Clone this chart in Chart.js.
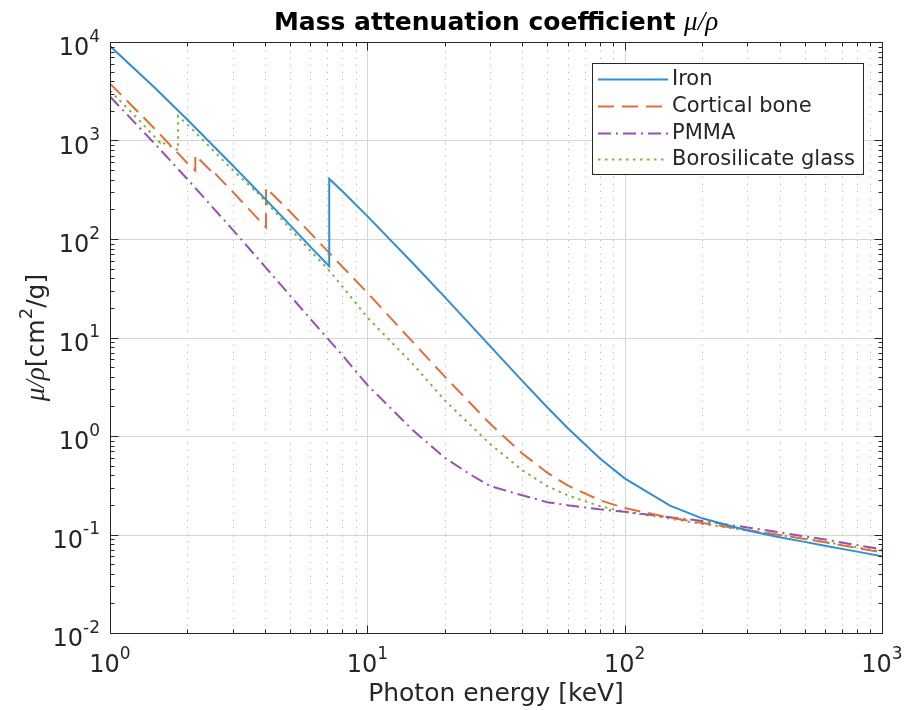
<!DOCTYPE html>
<html>
<head>
<meta charset="utf-8">
<script src="https://cdn.jsdelivr.net/npm/chart.js@4.4.0/dist/chart.umd.min.js"></script>
<style>
html, body { margin: 0; padding: 0; background: #fff; }
#wrap { width: 906px; height: 710px; position: relative; }
</style>
</head>
<body>
<div id="wrap"><canvas id="muChart"></canvas></div>
<script>
// photon energies in keV, mass attenuation in cm^2/g
const seriesNames = ['Iron', 'Cortical bone', 'PMMA', 'Borosilicate glass'];

const energyIron = [1, 1.5, 2, 3, 4, 5, 6, 7.112, 7.112, 8, 10, 15, 20, 30, 40, 50, 60, 80, 100, 150, 200, 300, 400, 500, 600, 800, 1000];
const muIron = [9085, 3399, 1626, 557.6, 256.7, 139.3, 83.76, 52.81, 407.5, 305.6, 170.6, 57.08, 25.68, 8.176, 3.629, 1.958, 1.205, 0.5952, 0.3717, 0.1964, 0.146, 0.1099, 0.094, 0.08414, 0.07704, 0.06699, 0.05995];

const energyBone = [1, 1.0721, 1.0721, 1.305, 1.305, 1.5, 2, 2.1455, 2.1455, 2.472, 2.472, 3, 4, 4.0381, 4.0381, 5, 6, 8, 10, 15, 20, 30, 40, 50, 60, 80, 100, 150, 200, 300, 400, 500, 600, 800, 1000];
const muBone = [3781, 3150, 3156, 1873, 1883, 1295, 586.9, 495, 711.2, 488.5, 509, 300.9, 134.5, 131.3, 331.8, 190.3, 115.3, 52.27, 28.51, 9.032, 4.001, 1.331, 0.6655, 0.4242, 0.3148, 0.2229, 0.1855, 0.148, 0.1309, 0.1113, 0.09908, 0.09022, 0.08332, 0.07308, 0.06566];

const energyPmma = [1, 1.5, 2, 3, 4, 5, 6, 8, 10, 15, 20, 25, 30, 40, 50, 60, 80, 100, 150, 200, 300, 400, 500, 600, 800, 1000];
const muPmma = [2794, 915, 404, 124, 52.5, 26.8, 15.5, 6.6, 3.3, 1.15, 0.6, 0.41, 0.31, 0.25, 0.213, 0.198, 0.18, 0.17, 0.15, 0.137, 0.118, 0.105, 0.096, 0.089, 0.078, 0.071];

const energyGlass = [1, 1.0721, 1.0721, 1.3, 1.5596, 1.5596, 1.8389, 1.8389, 2, 3, 3.6074, 3.6074, 4, 5, 6, 7, 8, 10, 15, 20, 30, 40, 50, 60, 80, 100, 150, 200, 300, 400, 500, 600, 800, 1000];
const muGlass = [3200, 2650, 2670, 1600, 960, 985, 800, 1770, 1450, 500, 320, 323, 245, 128, 76, 50, 33, 16, 5.4, 2.3, 0.83, 0.45, 0.31, 0.25, 0.194, 0.17, 0.145, 0.128, 0.11, 0.099, 0.091, 0.084, 0.074, 0.067];

const xDecades = [1, 10, 100, 1000];
const xDecadeExp = ['0', '1', '2', '3'];
const yDecades = [0.01, 0.1, 1, 10, 100, 1000, 10000];
const yDecadeExp = ['-2', '-1', '0', '1', '2', '3', '4'];

const colors = ['#2f8fd3', '#e06f3c', '#9a4fb0', '#80b43e'];
const dashes = [[], [16, 8], [13, 5, 2, 5], [2.5, 4.5]];
const FONT = "'DejaVu Sans', sans-serif";
const SERIF_IT = 'italic 27px "Liberation Serif", serif';
const INK = '#262626';

function pts(xs, ys) {
    return xs.map((e, i) => ({ x: e, y: ys[i] }));
}

function powLabel(ctx, exp, x, y, align, size) {
    const es = Math.round(size * 0.72);
    ctx.font = size + 'px ' + FONT;
    const wb = ctx.measureText('10').width;
    ctx.font = es + 'px ' + FONT;
    const we = ctx.measureText(exp).width;
    const total = wb + we;
    let sx = x;
    if (align === 'center') sx = x - total / 2;
    if (align === 'right') sx = x - total;
    ctx.textAlign = 'left';
    ctx.textBaseline = 'alphabetic';
    ctx.font = size + 'px ' + FONT;
    ctx.fillText('10', sx, y);
    ctx.font = es + 'px ' + FONT;
    ctx.fillText(exp, sx + wb, y - size * 0.56);
}

function minorValues(decades) {
    const out = [];
    for (let d = 0; d < decades.length - 1; d++) {
        for (let k = 2; k <= 9; k++) out.push(decades[d] * k);
    }
    return out;
}

const matlabAxes = {
    id: 'matlabAxes',
    beforeDatasetsDraw(chart) {
        const { ctx, chartArea: a, scales } = chart;
        ctx.save();
        // minor dotted grid, x only
        ctx.strokeStyle = '#b8b8b8';
        ctx.lineWidth = 1;
        ctx.setLineDash([1.2, 5.8]);
        minorValues(xDecades).forEach(v => {
            const px = Math.round(scales.x.getPixelForValue(v)) + 0.5;
            ctx.beginPath(); ctx.moveTo(px, a.bottom); ctx.lineTo(px, a.top); ctx.stroke();
        });
        ctx.setLineDash([]);
        ctx.strokeStyle = '#d6d6d6';
        xDecades.forEach(v => {
            const px = Math.round(scales.x.getPixelForValue(v)) + 0.5;
            ctx.beginPath(); ctx.moveTo(px, a.bottom); ctx.lineTo(px, a.top); ctx.stroke();
        });
        yDecades.forEach(v => {
            const py = Math.round(scales.y.getPixelForValue(v)) + 0.5;
            ctx.beginPath(); ctx.moveTo(a.left, py); ctx.lineTo(a.right, py); ctx.stroke();
        });
        ctx.restore();
    },
    afterDatasetsDraw(chart) {
        const { ctx, chartArea: a, scales } = chart;
        ctx.save();
        ctx.strokeStyle = INK;
        ctx.fillStyle = INK;
        ctx.lineWidth = 1;
        const L = Math.round(a.left) + 0.5, R = Math.round(a.right) + 0.5;
        const T = Math.round(a.top) + 0.5, B = Math.round(a.bottom) + 0.5;
        ctx.strokeRect(L, T, R - L, B - T);

        // ticks pointing inward
        const tickX = (v, len) => {
            const px = Math.round(scales.x.getPixelForValue(v)) + 0.5;
            ctx.beginPath();
            ctx.moveTo(px, B); ctx.lineTo(px, B - len);
            ctx.moveTo(px, T); ctx.lineTo(px, T + len);
            ctx.stroke();
        };
        const tickY = (v, len) => {
            const py = Math.round(scales.y.getPixelForValue(v)) + 0.5;
            ctx.beginPath();
            ctx.moveTo(L, py); ctx.lineTo(L + len, py);
            ctx.moveTo(R, py); ctx.lineTo(R - len, py);
            ctx.stroke();
        };
        minorValues(xDecades).forEach(v => tickX(v, 4));
        xDecades.forEach(v => tickX(v, 8));
        minorValues(yDecades).forEach(v => tickY(v, 4));
        yDecades.forEach(v => tickY(v, 8));

        // tick labels
        xDecades.forEach((v, i) => {
            powLabel(ctx, xDecadeExp[i], scales.x.getPixelForValue(v), 672, 'center', 24);
        });
        yDecades.forEach((v, i) => {
            powLabel(ctx, yDecadeExp[i], a.left - 10, scales.y.getPixelForValue(v) + 13, 'right', 24);
        });

        // title
        const cx = (a.left + a.right) / 2;
        const t1 = 'Mass attenuation coefficient ';
        const t2 = 'μ/ρ';
        ctx.font = SERIF_IT;
        const w2 = ctx.measureText(t2).width;
        ctx.font = 'bold 25px ' + FONT;
        const w1 = ctx.measureText(t1).width;
        const tx = cx - (w1 + w2) / 2;
        ctx.textAlign = 'left';
        ctx.fillStyle = '#000';
        ctx.fillText(t1, tx, 30);
        ctx.font = SERIF_IT;
        ctx.fillText(t2, tx + w1, 30);

        // x label
        ctx.fillStyle = INK;
        ctx.font = '25px ' + FONT;
        ctx.textAlign = 'center';
        ctx.fillText('Photon energy [keV]', cx, 701);

        // y label, rotated
        ctx.save();
        ctx.translate(44, (a.top + a.bottom) / 2);
        ctx.rotate(-Math.PI / 2);
        const parts = [
            { s: 'μ/ρ', f: SERIF_IT, dy: 0 },
            { s: '[cm', f: '25px ' + FONT, dy: 0 },
            { s: '2', f: '18px ' + FONT, dy: -12 },
            { s: '/g]', f: '25px ' + FONT, dy: 0 }
        ];
        let tw = 0;
        parts.forEach(p => { ctx.font = p.f; p.w = ctx.measureText(p.s).width; tw += p.w; });
        let ox = -tw / 2;
        ctx.textAlign = 'left';
        parts.forEach(p => { ctx.font = p.f; ctx.fillText(p.s, ox, p.dy); ox += p.w; });
        ctx.restore();

        // legend
        const lx = 592, ly = 63, lw = 271, lh = 111;
        ctx.fillStyle = '#fff';
        ctx.fillRect(lx, ly, lw, lh);
        ctx.strokeStyle = INK;
        ctx.lineWidth = 1;
        ctx.strokeRect(lx + 0.5, ly + 0.5, lw, lh);
        const rows = [79, 106, 133, 159];
        chart.data.datasets.forEach((ds, i) => {
            ctx.strokeStyle = ds.borderColor;
            ctx.lineWidth = 2;
            ctx.setLineDash(ds.borderDash || []);
            ctx.beginPath();
            ctx.moveTo(598, rows[i] + 0.5);
            ctx.lineTo(668, rows[i] + 0.5);
            ctx.stroke();
            ctx.setLineDash([]);
            ctx.fillStyle = INK;
            ctx.font = '21px ' + FONT;
            ctx.textAlign = 'left';
            ctx.textBaseline = 'middle';
            ctx.fillText(ds.label, 672, rows[i] + 1);
            ctx.textBaseline = 'alphabetic';
        });
        ctx.restore();
    }
};

const allSeries = [
    pts(energyIron, muIron),
    pts(energyBone, muBone),
    pts(energyPmma, muPmma),
    pts(energyGlass, muGlass)
];

const muChart = new Chart(document.getElementById('muChart').getContext('2d'), {
    type: 'line',
    data: {
        datasets: allSeries.map((d, i) => ({
            label: seriesNames[i],
            data: d,
            borderColor: colors[i],
            backgroundColor: colors[i],
            borderWidth: 2,
            borderDash: dashes[i],
            pointRadius: 0,
            tension: 0,
            fill: false
        }))
    },
    options: {
        responsive: true,
        maintainAspectRatio: false,
        animation: false,
        layout: { padding: { left: 110, right: 24, top: 42, bottom: 77 } },
        scales: {
            x: { type: 'logarithmic', min: 1, max: 1000, display: false },
            y: { type: 'logarithmic', min: 0.01, max: 10000, display: false }
        },
        plugins: {
            legend: { display: false },
            tooltip: { enabled: false }
        }
    },
    plugins: [matlabAxes]
});
</script>
</body>
</html>
